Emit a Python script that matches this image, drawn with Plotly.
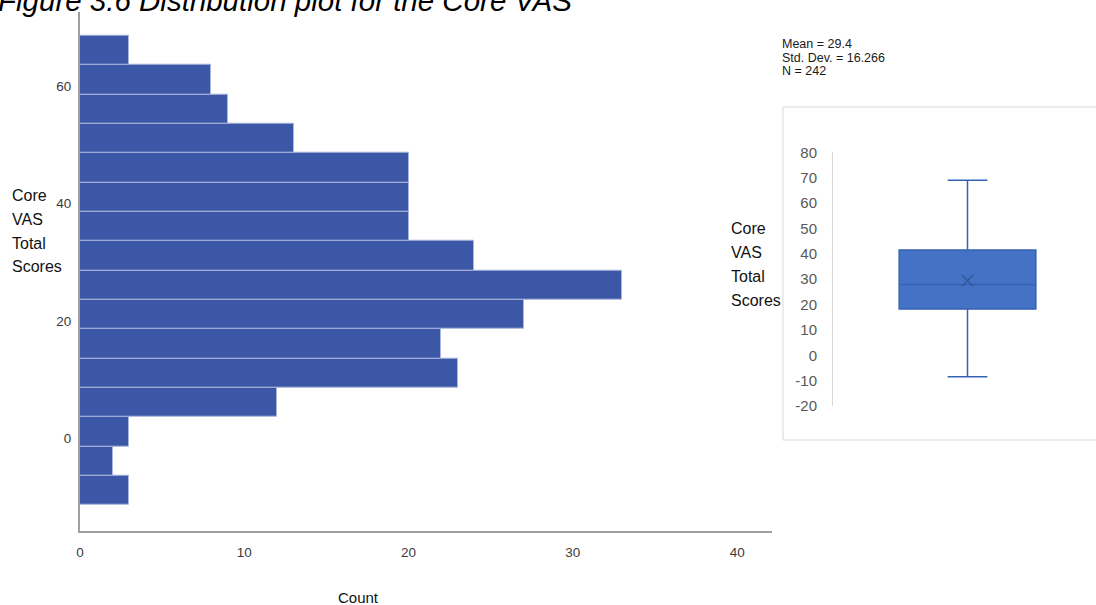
import plotly.graph_objects as go

# Histogram of Core VAS total scores (bin width 5)
bin_centers = [-8.9, -3.9, 1.1, 6.1, 11.1, 16.1, 21.1, 26.1, 31.1, 36.1,
               41.1, 46.1, 51.1, 56.1, 61.1, 66.1]
counts = [3, 2, 3, 12, 23, 22, 27, 33, 24, 20, 20, 20, 13, 9, 8, 3]
hist_x_ticks = [0, 10, 20, 30, 40]
hist_y_ticks = [0, 20, 40, 60]

# Summary statistics
stats_lines = ["Mean = 29.4", "Std. Dev. = 16.266", "N = 242"]
box_q1, box_median, box_q3 = 18.2, 27.9, 41.5
box_lower, box_upper = -8.5, 69.0
box_mean = 29.4
box_y_ticks = [80, 70, 60, 50, 40, 30, 20, 10, 0, -10, -20]
box_y_labels = ["80", "70", "60", "50", "40", "30", "20", "10", "0", "-10", "-20"]

W, H = 1096, 605
FONT = "Liberation Sans, Arial, sans-serif"


def px(x):
    return x / W


def py(y):
    return 1 - y / H


fig = go.Figure()

fig.add_trace(go.Bar(
    x=counts, y=bin_centers, orientation="h", width=5,
    marker=dict(color="#3c57a5", line=dict(color="#aab6dd", width=1)),
    xaxis="x", yaxis="y", showlegend=False, hoverinfo="x+y",
))

fig.add_trace(go.Box(
    x=[0], q1=[box_q1], median=[box_median], q3=[box_q3],
    lowerfence=[box_lower], upperfence=[box_upper],
    width=1, whiskerwidth=0.29,
    fillcolor="#4472c4", line=dict(color="#3562b4", width=1.5),
    xaxis="x2", yaxis="y2", showlegend=False, boxpoints=False,
))

fig.add_trace(go.Scatter(
    x=[0], y=[box_mean], mode="markers",
    marker=dict(symbol="x-thin-open", size=11, color="#2f4f8f",
                line=dict(color="#2f4f8f", width=1.2)),
    xaxis="x2", yaxis="y2", showlegend=False,
))

annotations = []

# Title, partly above the top edge
annotations.append(dict(
    text="<i>Figure 3.6 Distribution plot for the Core VAS</i>",
    xref="paper", yref="paper", x=px(-4), y=py(10),
    xanchor="left", yanchor="middle", yshift=9, showarrow=False,
    font=dict(family=FONT, size=29.5, color="#000000"),
))

# Axis titles as stacked words
for i, word in enumerate(["Core", "VAS", "Total", "Scores"]):
    annotations.append(dict(
        text=word, xref="paper", yref="paper",
        x=px(10), y=py(195.7 + 23.7 * i),
        xanchor="left", yanchor="middle", showarrow=False,
        font=dict(family=FONT, size=16, color="#111111"),
    ))
    annotations.append(dict(
        text=word, xref="paper", yref="paper",
        x=px(728.5), y=py(228.5 + 23.9 * i),
        xanchor="left", yanchor="middle", showarrow=False,
        font=dict(family=FONT, size=16, color="#111111"),
    ))

annotations.append(dict(
    text="Count", xref="paper", yref="paper",
    x=px(358), y=py(597), xanchor="center", yanchor="middle",
    showarrow=False, font=dict(family=FONT, size=15, color="#111111"),
))

for i, line in enumerate(stats_lines):
    annotations.append(dict(
        text=line, xref="paper", yref="paper",
        x=px(780), y=py(44.3 + 13.6 * i), xanchor="left", yanchor="middle",
        showarrow=False, font=dict(family=FONT, size=12.5, color="#1a1a1a"),
    ))

shapes = [dict(
    type="rect", xref="paper", yref="paper",
    x0=px(783), x1=px(1100), y0=py(440), y1=py(107),
    line=dict(color="#d9d9d9", width=1), fillcolor="rgba(0,0,0,0)",
    layer="below",
)]

fig.update_layout(
    width=W, height=H,
    margin=dict(l=0, r=0, t=0, b=0),
    paper_bgcolor="white", plot_bgcolor="rgba(0,0,0,0)",
    bargap=0,
    annotations=annotations, shapes=shapes,
    xaxis=dict(
        domain=[px(80), px(772)], range=[0, 42.12], automargin=False,
        tickvals=hist_x_ticks, ticks="", showgrid=False, zeroline=False,
        showline=True, linecolor="#a0a0a0", linewidth=2,
        tickfont=dict(family=FONT, size=13.5, color="#3a3a3a"),
        ticklabelstandoff=8, anchor="y",
    ),
    yaxis=dict(
        domain=[py(530.7), py(11.7)], range=[-15.76, 72.66], automargin=False,
        tickvals=hist_y_ticks, ticks="", showgrid=False, zeroline=False,
        showline=True, linecolor="#a0a0a0", linewidth=2,
        tickfont=dict(family=FONT, size=13.5, color="#3a3a3a"),
        ticklabelstandoff=4, anchor="x",
    ),
    xaxis2=dict(
        domain=[px(833), 1], range=[-0.984, 0.94], automargin=False,
        showticklabels=False, ticks="", showgrid=False, zeroline=False,
        showline=False, anchor="y2",
    ),
    yaxis2=dict(
        domain=[py(406), py(152.3)], range=[-20, 80], automargin=False,
        tickvals=box_y_ticks, ticktext=box_y_labels,
        ticks="", showgrid=False, zeroline=False,
        showline=True, linecolor="#d9d9d9", linewidth=1,
        tickfont=dict(family=FONT, size=15, color="#595959"),
        ticklabelstandoff=12, anchor="x2",
    ),
)

fig.write_html("out.html")
